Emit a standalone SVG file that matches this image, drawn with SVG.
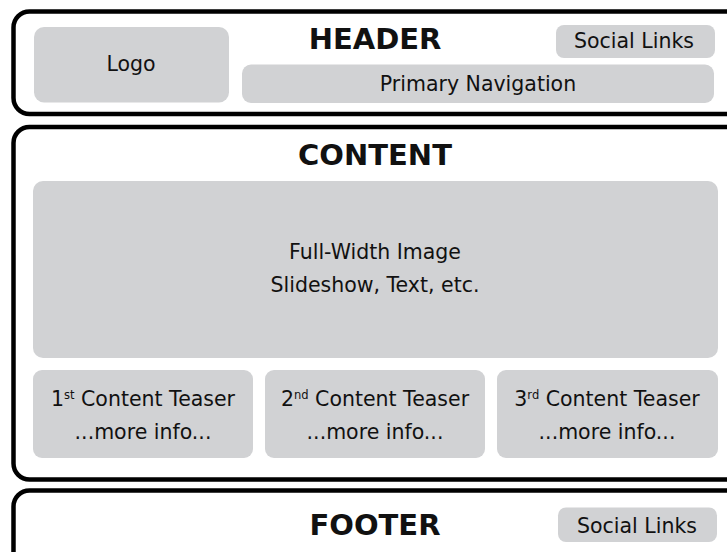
<svg xmlns="http://www.w3.org/2000/svg" width="727" height="552" viewBox="0 0 727 552">
<style>
.frame{fill:#fff;stroke:#000;stroke-width:4.5}
.box{fill:#d1d2d4}
text{font-family:"DejaVu Sans","Liberation Sans",sans-serif;fill:#111;text-anchor:middle}
.h{font-weight:bold;font-size:29px}
.t{font-size:20.5px}
.sup{font-size:11.5px}
</style>
<rect width="727" height="552" fill="#fff"/>
<g id="header">
<rect class="frame" x="13.5" y="11.5" width="760" height="102.5" rx="16"/>
<text class="h" x="375" y="49">HEADER</text>
</g>
<g id="logo">
<rect class="box" x="34" y="27" width="195" height="75.5" rx="10"/>
<text class="t" x="131" y="71">Logo</text>
</g>
<g id="header-social">
<rect class="box" x="556" y="25" width="159" height="33" rx="8"/>
<text class="t" x="634" y="48" font-size="20">Social Links</text>
</g>
<g id="nav">
<rect class="box" x="242" y="64.5" width="472" height="38.5" rx="9"/>
<text class="t" x="478" y="90.5" font-size="20">Primary Navigation</text>
</g>
<g id="content">
<rect class="frame" x="13.5" y="127" width="760" height="352.5" rx="16"/>
<text class="h" x="375" y="165">CONTENT</text>
</g>
<g id="full-image">
<rect class="box" x="33" y="181" width="685" height="177" rx="10"/>
<text class="t" x="375" y="259">Full-Width Image</text>
<text class="t" x="375" y="292">Slideshow, Text, etc.</text>
</g>
<g id="teaser1">
<rect class="box" x="33" y="370" width="220" height="88" rx="9"/>
<text class="t" x="143" y="406">1<tspan class="sup" dy="-7">st</tspan><tspan dy="7"> Content Teaser</tspan></text>
<text class="t" x="143" y="439">...more info...</text>
</g>
<g id="teaser2">
<rect class="box" x="265" y="370" width="220" height="88" rx="9"/>
<text class="t" x="375" y="406">2<tspan class="sup" dy="-7">nd</tspan><tspan dy="7"> Content Teaser</tspan></text>
<text class="t" x="375" y="439">...more info...</text>
</g>
<g id="teaser3">
<rect class="box" x="497" y="370" width="221" height="88" rx="9"/>
<text class="t" x="607" y="406">3<tspan class="sup" dy="-7">rd</tspan><tspan dy="7"> Content Teaser</tspan></text>
<text class="t" x="607" y="439">...more info...</text>
</g>
<g id="footer">
<rect class="frame" x="13.5" y="490.5" width="760" height="100" rx="16"/>
<text class="h" x="375" y="535">FOOTER</text>
</g>
<g id="footer-social">
<rect class="box" x="558" y="507.5" width="159" height="34.5" rx="8"/>
<text class="t" x="637" y="533" font-size="20">Social Links</text>
</g>
<g id="connectors"/>
</svg>
